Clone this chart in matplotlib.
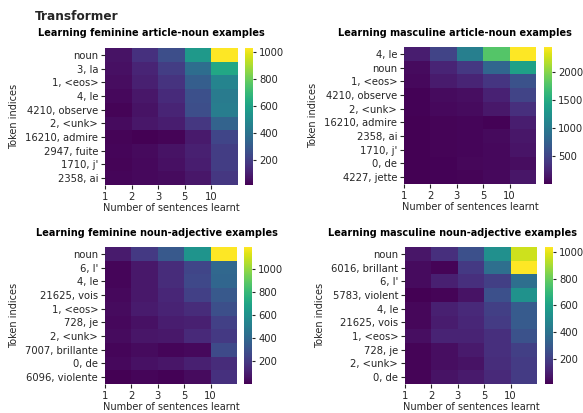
import numpy as np
import matplotlib
matplotlib.use("Agg")
import matplotlib.pyplot as plt

sentences = ["1", "2", "3", "5", "10"]

fem_art_tokens = ["noun", "3, la", "1, <eos>", "4, le", "4210, observe", "2, <unk>",
                  "16210, admire", "2947, fuite", "1710, j'", "2358, ai"]
fem_art_values = [
    [60, 150, 250, 560, 1032],
    [50, 110, 190, 370, 620],
    [45, 100, 160, 310, 470],
    [30, 70, 130, 260, 430],
    [20, 60, 110, 250, 440],
    [40, 70, 90, 170, 330],
    [20, 10, 20, 80, 220],
    [25, 35, 60, 100, 190],
    [20, 30, 50, 90, 190],
    [25, 30, 40, 70, 170],
]

masc_art_tokens = ["4, le", "noun", "1, <eos>", "4210, observe", "2, <unk>",
                   "16210, admire", "2358, ai", "1710, j'", "0, de", "4227, jette"]
masc_art_values = [
    [200, 500, 1050, 1800, 2450],
    [80, 250, 400, 800, 1400],
    [60, 180, 250, 380, 620],
    [20, 80, 100, 230, 500],
    [20, 60, 80, 160, 330],
    [10, 30, 40, 20, 200],
    [10, 30, 40, 70, 150],
    [10, 30, 40, 60, 130],
    [10, 20, 50, 60, 90],
    [5, 20, 30, 60, 140],
]

fem_adj_tokens = ["noun", "6, l'", "4, le", "21625, vois", "1, <eos>", "728, je",
                  "2, <unk>", "7007, brillante", "0, de", "6096, violente"]
fem_adj_values = [
    [90, 200, 330, 620, 1190],
    [20, 80, 150, 250, 400],
    [20, 80, 150, 260, 390],
    [30, 80, 130, 230, 330],
    [40, 90, 120, 150, 290],
    [30, 60, 100, 110, 230],
    [40, 70, 80, 140, 200],
    [20, 40, 20, 30, 270],
    [30, 60, 70, 110, 150],
    [5, 20, 10, 40, 170],
]

masc_adj_tokens = ["noun", "6016, brillant", "6, l'", "5783, violent", "4, le",
                   "21625, vois", "1, <eos>", "728, je", "2, <unk>", "0, de"]
masc_adj_values = [
    [70, 150, 260, 520, 960],
    [40, 20, 180, 380, 1037],
    [40, 100, 150, 200, 380],
    [10, 20, 60, 260, 530],
    [30, 100, 130, 200, 300],
    [30, 90, 120, 190, 300],
    [50, 110, 110, 150, 270],
    [20, 50, 80, 150, 200],
    [20, 50, 60, 140, 190],
    [20, 60, 80, 130, 190],
]

panels = [
    ("Learning feminine article-noun examples", fem_art_tokens, fem_art_values),
    ("Learning masculine article-noun examples", masc_art_tokens, masc_art_values),
    ("Learning feminine noun-adjective examples", fem_adj_tokens, fem_adj_values),
    ("Learning masculine noun-adjective examples", masc_adj_tokens, masc_adj_values),
]

# layout in pixels: heatmap (left, top, width, height), colorbar left, title centre (x, y)
W, H = 583, 413
boxes = [(105, 48, 133, 137, 245, (151, 33)),
         (404, 47, 132, 137, 544, (455, 33)),
         (105, 247, 132, 137, 244, (157, 233)),
         (405, 247, 132, 137, 545, (452, 233))]

TXT = "#262626"
fig = plt.figure(figsize=(W / 100, H / 100), dpi=100)
fig.text(35 / W, 1 - 17 / H, "Transformer", fontsize=8.7, fontweight="bold",
         va="center", ha="left", color=TXT)

for (title, tokens, values), (l, t, w, h, cl, (tx, ty)) in zip(panels, boxes):
    ax = fig.add_axes([l / W, 1 - (t + h) / H, w / W, h / H])
    cax = fig.add_axes([cl / W, 1 - (t + h) / H, 8 / W, h / H])
    data = np.array(values, dtype=float)
    mesh = ax.pcolormesh(data, cmap="viridis")
    ax.set_xlim(0, 5)
    ax.set_ylim(len(tokens), 0)
    ax.set_xticks(np.arange(5))
    ax.set_xticklabels(sentences, fontsize=7.2)
    ax.set_yticks(np.arange(len(tokens)) + 0.5)
    ax.set_yticklabels(tokens, fontsize=7.2)
    for lab in ax.get_yticklabels():
        if lab.get_text() == "noun":
            lab.set_color("green")
    for s in ax.spines.values():
        s.set_visible(False)
    ax.tick_params(length=3, width=0.8, pad=2, colors=TXT)
    ax.set_xlabel("Number of sentences learnt", fontsize=7, labelpad=1, color=TXT)
    ax.set_ylabel("Token indices", fontsize=7, color=TXT)
    fig.text(tx / W, 1 - ty / H, title, fontsize=7, fontweight="bold",
             ha="center", va="center", color="black")
    cb = fig.colorbar(mesh, cax=cax)
    cb.outline.set_visible(False)
    cb.ax.tick_params(labelsize=7.2, length=2.5, width=0.8, pad=2, colors=TXT)

fig.savefig("out.png", dpi=100)
